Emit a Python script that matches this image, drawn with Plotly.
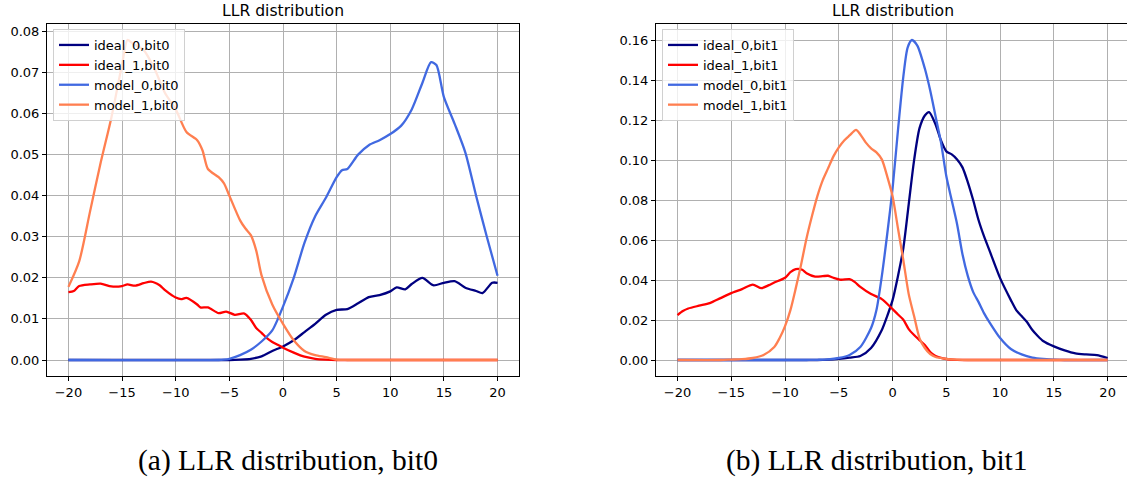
import plotly.graph_objects as go

# ---------------- bit0 densities ----------------
x_ideal0_b0 = [-20, -5, -4, -3, -2, -1, 0, 1, 2, 3, 4, 5, 6, 7, 8, 9, 10, 10.6, 11.4, 12, 13, 14, 15, 16, 17, 18, 18.6, 19.5, 20]
y_ideal0_b0 = [0, 0, 0.0001, 0.0003, 0.0009, 0.0022, 0.0033, 0.0048, 0.0068, 0.0088, 0.011, 0.0122, 0.0124, 0.0138,
               0.0153, 0.0158, 0.0167, 0.0177, 0.0172, 0.0185, 0.0200, 0.0182, 0.0188, 0.0192, 0.0176, 0.0168, 0.0163,
               0.0188, 0.0188]

x_ideal1_b0 = [-20, -19.5, -19, -18, -17, -16, -15, -14.5, -13.8, -13, -12.3, -11.5, -11, -10, -9.5, -9, -8, -7.7, -7,
               -6, -5.3, -4.5, -3.6, -3, -2.5, -2, -1.5, -1, -0.5, 0, 1, 2, 3, 4, 5, 20]
y_ideal1_b0 = [0.0165, 0.0168, 0.018, 0.0184, 0.0186, 0.0179, 0.0180, 0.0184, 0.0181, 0.0187, 0.0191, 0.0182, 0.017,
               0.0152, 0.0148, 0.0151, 0.0135, 0.0128, 0.0128, 0.0114, 0.0118, 0.0110, 0.0113, 0.0098, 0.0078, 0.0066,
               0.0053, 0.0044, 0.0037, 0.0030, 0.0018, 0.0008, 0.0003, 0.0001, 0, 0]

x_model0_b0 = [-20, -6, -5.5, -5, -4, -3, -2, -1, 0, 1, 2, 3, 4, 5, 5.5, 6, 7, 8, 9, 10, 11, 12, 13, 13.8, 14.3, 15, 16,
               17, 18, 19, 20]
y_model0_b0 = [0, 0, 0.0001, 0.0003, 0.0012, 0.0025, 0.0045, 0.0072, 0.013, 0.020, 0.0285, 0.035, 0.0395, 0.0445,
               0.0462, 0.0465, 0.050, 0.0523, 0.0535, 0.055, 0.057, 0.061, 0.0675, 0.0725, 0.0718, 0.064, 0.0575,
               0.0505, 0.040, 0.030, 0.0205]

x_model1_b0 = [-20, -19, -18, -17, -16, -15, -14.5, -14, -13, -12, -11, -10, -9, -8, -7.5, -7, -6, -5.5, -5, -4, -3.5,
               -3, -2.5, -2, -1, 0, 1, 2, 3, 4, 5, 6, 20]
y_model1_b0 = [0.0178, 0.024, 0.036, 0.048, 0.059, 0.072, 0.0779, 0.077, 0.0755, 0.071, 0.065, 0.061, 0.0555, 0.0535,
               0.051, 0.0465, 0.0445, 0.043, 0.040, 0.034, 0.032, 0.0304, 0.0267, 0.0206, 0.0135, 0.0088, 0.0048,
               0.0022, 0.0012, 0.0007, 0.0001, 0, 0]

# ---------------- bit1 densities ----------------
x_ideal0_b1 = [-20, -7, -6, -5, -4, -3, -2, -1, -0.5, 0, 0.5, 1, 1.5, 2, 2.5, 3, 3.4, 4, 4.5, 5, 5.5, 6, 6.5, 7, 7.5,
               8, 8.5, 9, 10, 11, 11.5, 12, 12.5, 13, 13.5, 14, 15, 16, 17, 18, 19, 20]
y_ideal0_b1 = [0, 0, 0.0002, 0.0006, 0.0012, 0.002, 0.006, 0.015, 0.022, 0.030, 0.042, 0.056, 0.078, 0.100, 0.116,
               0.1225, 0.1242, 0.118, 0.110, 0.1045, 0.103, 0.1005, 0.0965, 0.089, 0.080, 0.070, 0.062, 0.055, 0.041,
               0.030, 0.025, 0.022, 0.019, 0.015, 0.012, 0.0095, 0.0068, 0.0048, 0.0033, 0.0028, 0.0025, 0.001]

x_ideal1_b1 = [-20, -19.5, -19, -18, -17, -16, -15, -14, -13, -12.2, -11.5, -11, -10, -9.5, -9, -8.4, -8, -7.2, -6.5,
               -6, -5.5, -4.8, -4, -3.5, -3, -2, -1, 0, 0.5, 1, 1.5, 2, 2.5, 3, 3.5, 4, 5, 6, 7, 20]
y_ideal1_b1 = [0.0225, 0.0245, 0.0258, 0.0272, 0.0285, 0.031, 0.0335, 0.0355, 0.0378, 0.036, 0.0375, 0.0388, 0.0412,
               0.044, 0.0455, 0.0452, 0.0435, 0.0418, 0.042, 0.0422, 0.0412, 0.0402, 0.0405, 0.039, 0.0366, 0.033,
               0.0305, 0.0255, 0.0228, 0.0202, 0.0155, 0.0125, 0.010, 0.0075, 0.004, 0.002, 0.0005, 0.0001, 0, 0]

x_model0_b1 = [-20, -8, -7, -6, -5, -4, -3, -2, -1.5, -1, -0.5, 0, 0.5, 1, 1.4, 1.8, 2.3, 3, 3.5, 4, 4.5, 5, 5.5, 6,
               6.5, 7, 7.5, 8, 8.5, 9, 10, 11, 12, 13, 14, 15, 16, 20]
y_model0_b1 = [0, 0, 0.0001, 0.0003, 0.001, 0.0025, 0.0065, 0.016, 0.025, 0.042, 0.063, 0.086, 0.115, 0.142, 0.1565,
               0.1603, 0.1575, 0.146, 0.135, 0.122, 0.109, 0.092, 0.080, 0.068, 0.053, 0.042, 0.034, 0.029, 0.0235,
               0.019, 0.011, 0.0055, 0.0028, 0.0012, 0.0005, 0.0002, 0, 0]

x_model1_b1 = [-20, -16, -15, -14, -13, -12, -11, -10.5, -10, -9.5, -9, -8.5, -8, -7.5, -7, -6.5, -6, -5.5, -5, -4.5,
               -4, -3.4, -3, -2.5, -2, -1.5, -1, -0.5, 0, 0.5, 1, 1.5, 2, 2.5, 3, 3.5, 4, 5, 6, 7, 20]
y_model1_b1 = [0, 0, 0.0002, 0.0004, 0.001, 0.0025, 0.0065, 0.011, 0.017, 0.025, 0.036, 0.048, 0.061, 0.072, 0.082,
               0.090, 0.096, 0.102, 0.1065, 0.110, 0.1125, 0.1153, 0.113, 0.109, 0.106, 0.104, 0.1005, 0.092, 0.082,
               0.066, 0.050, 0.033, 0.022, 0.011, 0.006, 0.003, 0.0015, 0.0006, 0.0002, 0, 0]

series_names = ["ideal_0", "ideal_1", "model_0", "model_1"]
series_colors = ["#000080", "#ff0000", "#4169e1", "#ff7f50"]

panels = [
    ("bit0", [(x_ideal0_b0, y_ideal0_b0), (x_ideal1_b0, y_ideal1_b0),
              (x_model0_b0, y_model0_b0), (x_model1_b0, y_model1_b0)]),
    ("bit1", [(x_ideal0_b1, y_ideal0_b1), (x_ideal1_b1, y_ideal1_b1),
              (x_model0_b1, y_model0_b1), (x_model1_b1, y_model1_b1)]),
]

x_ticks = [-20, -15, -10, -5, 0, 5, 10, 15, 20]
captions = ["(a) LLR distribution, bit0", "(b) LLR distribution, bit1"]

W, H = 1127, 481
TICK_FONT = dict(family="DejaVu Sans", size=13, color="#000000")

fig = go.Figure()

for i, (bit, curves) in enumerate(panels):
    xa = "x" if i == 0 else "x2"
    ya = "y" if i == 0 else "y2"
    legend_id = "legend" if i == 0 else "legend2"
    for name, color, (xs, ys) in zip(series_names, series_colors, curves):
        fig.add_trace(go.Scatter(
            x=xs, y=ys, mode="lines", name=f"{name},{bit}",
            line=dict(color=color, width=2.3, shape="spline", smoothing=0.7),
            xaxis=xa, yaxis=ya, legend=legend_id,
        ))

# axes boxes (pixel geometry converted to paper fractions)
left_box = (47, 519, 24, 376)
right_box = (656, 1127, 24, 376)


def dom(box):
    x0, x1, y0, y1 = box
    return [x0 / W, x1 / W], [(H - y1) / H, (H - y0) / H]


lx, ly = dom(left_box)
rx, ry = dom(right_box)

peak0 = max(max(y_ideal0_b0), max(y_ideal1_b0), max(y_model0_b0), max(y_model1_b0))
peak1 = max(max(y_ideal0_b1), max(y_ideal1_b1), max(y_model0_b1), max(y_model1_b1))

common_x = dict(
    tickmode="array", tickvals=x_ticks, ticks="outside", ticklen=4, tickcolor="#000",
    showgrid=True, gridcolor="#b0b0b0", gridwidth=1, zeroline=False,
    showline=True, linecolor="#000", linewidth=1, tickfont=TICK_FONT,
)
common_y = dict(
    ticks="outside", ticklen=4, tickcolor="#000", tickformat=".2f",
    showgrid=True, gridcolor="#b0b0b0", gridwidth=1, zeroline=False,
    showline=True, linecolor="#000", linewidth=1, tickfont=TICK_FONT,
)

fig.update_layout(
    width=W, height=H,
    margin=dict(l=0, r=0, t=0, b=0),
    paper_bgcolor="white", plot_bgcolor="white",
    font=dict(family="DejaVu Sans", color="#000"),
    xaxis=dict(domain=lx, range=[-22, 22], mirror=True, anchor="y", **common_x),
    yaxis=dict(domain=ly, range=[-0.05 * peak0, 1.05 * peak0], dtick=0.01, mirror=True, anchor="x", **common_y),
    xaxis2=dict(domain=rx, range=[-22, 21.8], mirror=True, anchor="y2", **common_x),
    yaxis2=dict(domain=ry, range=[-0.05 * peak1, 1.05 * peak1], dtick=0.02, anchor="x2", **common_y),
    legend=dict(x=53 / W, y=(H - 29) / H, xanchor="left", yanchor="top",
                bgcolor="rgba(255,255,255,0.8)", bordercolor="#d0d0d0", borderwidth=1,
                font=dict(family="DejaVu Sans", size=13, color="#000")),
    legend2=dict(x=662 / W, y=(H - 29) / H, xanchor="left", yanchor="top",
                 bgcolor="rgba(255,255,255,0.8)", bordercolor="#d0d0d0", borderwidth=1,
                 font=dict(family="DejaVu Sans", size=13, color="#000")),
)

# subplot titles
for (x0, x1, y0, y1) in (left_box, (656, 1129, 24, 376)):
    fig.add_annotation(text="LLR distribution", xref="paper", yref="paper",
                       x=(x0 + x1) / 2 / W, y=(H - 11) / H, xanchor="center", yanchor="middle",
                       showarrow=False, font=dict(family="DejaVu Sans", size=15.6, color="#000"))

# figure captions
for cx, text in zip((288, 877), captions):
    fig.add_annotation(text=text, xref="paper", yref="paper",
                       x=cx / W, y=(H - 460) / H, xanchor="center", yanchor="middle",
                       showarrow=False, font=dict(family="Liberation Serif", size=29.5, color="#000"))

fig.write_html("out.html")
